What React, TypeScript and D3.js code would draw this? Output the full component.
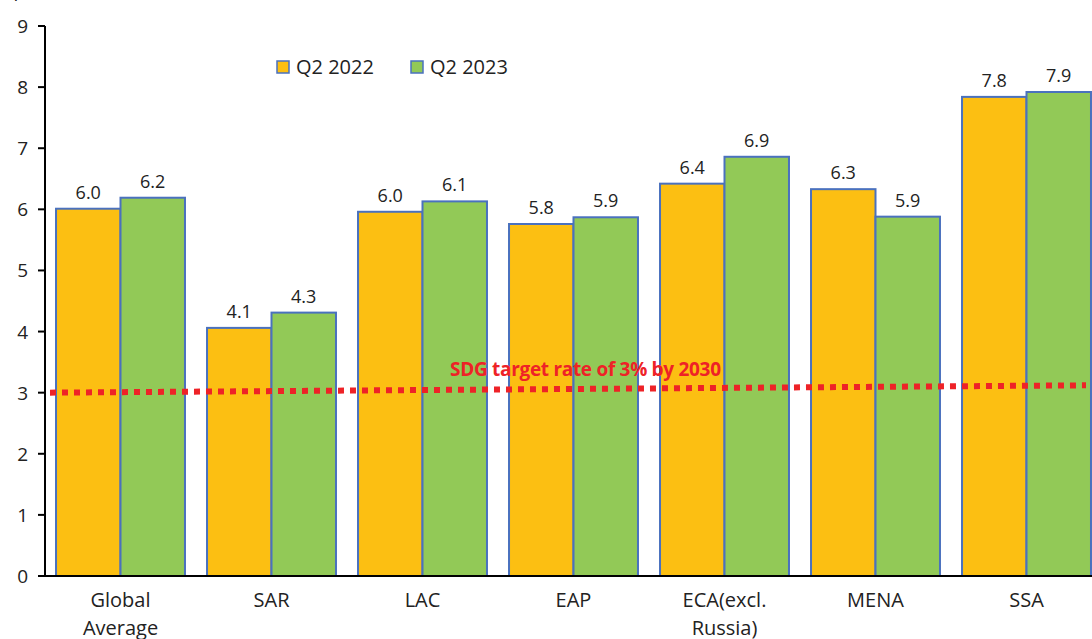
import { useMemo } from "react";
import { scaleBand, scaleLinear, range } from "d3";

const regions = ["Global Average", "SAR", "LAC", "EAP", "ECA(excl. Russia)", "MENA", "SSA"];
const regionLines = [["Global", "Average"], ["SAR"], ["LAC"], ["EAP"], ["ECA(excl.", "Russia)"], ["MENA"], ["SSA"]];
const q2022 = [6.01, 4.06, 5.96, 5.76, 6.42, 6.33, 7.84];
const q2023 = [6.19, 4.31, 6.13, 5.87, 6.86, 5.88, 7.92];
const seriesNames = ["Q2 2022", "Q2 2023"];
const seriesColors = ["#FCBF12", "#92C957"];
const sdgTarget = [3.0, 3.12];
const yTicks = range(0, 10);

const W = 1092;
const H = 639;
const FONT = "'Open Sans', 'DejaVu Sans', sans-serif";

export default function App() {
  const margin = { top: 26, left: 45, bottom: 63 };
  const plotH = H - margin.top - margin.bottom;

  const x = useMemo(
    () => scaleBand<string>().domain(regions).range([margin.left, margin.left + 7 * 151]).paddingInner(0.146).paddingOuter(0.073),
    []
  );
  const inner = useMemo(
    () => scaleBand<string>().domain(seriesNames).range([0, x.bandwidth()]),
    [x]
  );
  const y = useMemo(
    () => scaleLinear().domain([0, 9]).range([margin.top + plotH, margin.top]),
    []
  );

  const series = [q2022, q2023];
  const lineX0 = margin.left + 5;
  const lineX1 = 1086;

  return (
    <svg width={W} height={H} style={{ position: "absolute", left: 0, top: 0, background: "#fff" }} fontFamily={FONT}>
      <text x={8} y={-3} fontSize={19} fill="#222">(percent)</text>

      {/* bars */}
      {regions.map((r, i) => (
        <g key={r} transform={`translate(${x(r)},0)`}>
          {series.map((s, j) => {
            const bx = inner(seriesNames[j])!;
            const v = s[i];
            return (
              <g key={j}>
                <rect
                  x={bx}
                  y={y(v)}
                  width={inner.bandwidth()}
                  height={y(0) - y(v)}
                  fill={seriesColors[j]}
                  stroke="#4A71BE"
                  strokeWidth={2}
                />
                <text
                  x={bx + inner.bandwidth() / 2}
                  y={y(v) - 10}
                  textAnchor="middle"
                  fontSize={18}
                  fill="#222"
                >
                  {v.toFixed(1)}
                </text>
              </g>
            );
          })}
        </g>
      ))}

      {/* SDG target line */}
      <line
        x1={lineX0}
        x2={lineX1}
        y1={y(sdgTarget[0])}
        y2={y(sdgTarget[1])}
        stroke="#EE2227"
        strokeWidth={6}
        strokeDasharray="6,6"
      />
      <text x={450} y={376} fontSize={19} fontWeight="bold" fill="#EE2227" letterSpacing={-0.3}>
        SDG target rate of 3% by 2030
      </text>

      {/* y axis */}
      <line x1={margin.left} x2={margin.left} y1={y(9)} y2={y(0)} stroke="#000" strokeWidth={2} />
      {yTicks.map((t) => (
        <g key={t}>
          <line x1={margin.left - 7} x2={margin.left} y1={y(t)} y2={y(t)} stroke="#000" strokeWidth={2} />
          <text x={28} y={y(t) + 7} textAnchor="end" fontSize={19} fill="#222">
            {t}
          </text>
        </g>
      ))}

      {/* x axis */}
      <line x1={margin.left - 7} x2={W} y1={y(0)} y2={y(0)} stroke="#000" strokeWidth={2} />
      {regions.map((r, i) => (
        <text key={r} x={x(r)! + x.bandwidth() / 2} y={607} textAnchor="middle" fontSize={20} fill="#222">
          {regionLines[i].map((ln, k) => (
            <tspan key={k} x={x(r)! + x.bandwidth() / 2} dy={k === 0 ? 0 : 28}>
              {ln}
            </tspan>
          ))}
        </text>
      ))}

      {/* legend */}
      {seriesNames.map((n, j) => (
        <g key={n} transform={`translate(${277 + j * 134},61)`}>
          <rect x={0} y={0} width={12} height={12} fill={seriesColors[j]} stroke="#4A71BE" strokeWidth={1.5} />
          <text x={19} y={13} fontSize={20} fill="#222">
            {n}
          </text>
        </g>
      ))}
    </svg>
  );
}
